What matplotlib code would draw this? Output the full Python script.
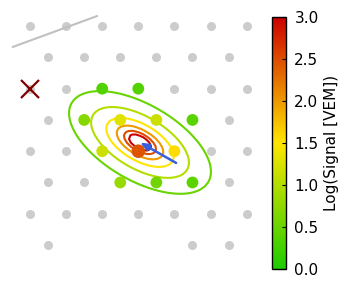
import matplotlib
matplotlib.use('Agg')
import matplotlib.pyplot as plt
import numpy as np
from matplotlib.colors import LinearSegmentedColormap, Normalize

# array layout: station columns present in each row (row 0 at the bottom)
row_cols = {
    0: [0, 4, 5],
    1: [0, 1, 2, 3, 4, 5, 6],
    2: [0, 1, 2, 3, 4, 5],
    3: [0, 1, 2, 3, 4, 5, 6],
    4: [0, 1, 2, 3, 4, 5],
    5: [0, 1, 2, 3, 4, 5, 6],
    6: [0, 1, 2, 3, 4, 5],
    7: [0, 1, 2, 3, 4, 5, 6],
}
spacing = 1.5  # km

# triggered stations: row, column, log10(signal)
hit_row = [5, 5, 4, 4, 4, 4, 3, 3, 3, 2, 2, 2]
hit_col = [2, 3, 1, 2, 3, 4, 2, 3, 4, 2, 3, 4]
hit_logs = [0.35, 0.35, 0.7, 1.3, 1.15, 0.4, 1.15, 2.45, 1.55, 0.8, 0.55, 0.4]

bad_row, bad_col = 5, 0

# reconstructed core and shower axis
core = (4.57, 4.26)
axis_end = (6.07, 3.41)
axis_angle = -30.0  # deg
ellipse_ratio = 0.48
ldf_ref_r = 3.28    # km where log S = 0.5
ldf_ref_s = 0.5
ldf_beta = 3.1
levels = [0.5, 1.0, 1.5, 2.0, 2.5, 3.0]

line_start = (-0.71, 8.23)
line_end = (2.78, 9.51)


def station_xy(row, col):
    x = spacing * col + (0.75 if row % 2 == 0 else 0.0)
    y = row * spacing * np.sqrt(3) / 2
    return x, y


cmap = LinearSegmentedColormap.from_list(
    'sig', [(0.12, 0.8, 0.0), (1.0, 0.9, 0.0), (0.8, 0.0, 0.0)])
norm = Normalize(0, 3)

fig = plt.figure(figsize=(3.6, 3.0), dpi=100)
ax = fig.add_axes([0, 0, 260 / 360, 1])
ax.set_axis_off()
ax.set_xlim(-30 / 24.07, 230 / 24.07)
ax.set_ylim(-55 / 24.07, 245 / 24.07)

gx, gy = [], []
for r, cols in row_cols.items():
    for c in cols:
        x, y = station_xy(r, c)
        gx.append(x)
        gy.append(y)
ax.scatter(gx, gy, s=42, c='#cccccc', linewidths=0, zorder=1)

ax.plot([line_start[0], line_end[0]], [line_start[1], line_end[1]],
        color='#c0c0c0', lw=1.5, zorder=1)

bx, by = station_xy(bad_row, bad_col)
ax.plot(bx, by, 'x', color='#800000', ms=13, mew=1.6, zorder=3)

# lateral distribution contours
xs = np.arange(0.5, 9.0, 0.15)
ys = np.arange(0.5, 8.0, 0.15)
X, Y = np.meshgrid(xs, ys)
t = np.radians(axis_angle)
u = (X - core[0]) * np.cos(t) + (Y - core[1]) * np.sin(t)
v = -(X - core[0]) * np.sin(t) + (Y - core[1]) * np.cos(t)
R = np.sqrt(u ** 2 + (v / ellipse_ratio) ** 2) + 1e-6
S = ldf_ref_s + ldf_beta * np.log10(ldf_ref_r / R)
ax.contour(X, Y, S, levels=levels, cmap=cmap, norm=norm, linewidths=1.5,
           zorder=2)

hx, hy, hs = [], [], []
for r, c, s in zip(hit_row, hit_col, hit_logs):
    x, y = station_xy(r, c)
    hx.append(x)
    hy.append(y)
    hs.append(95 if s > 2 else 72)
ax.scatter(hx, hy, s=hs, c=hit_logs, cmap=cmap, norm=norm, linewidths=0, zorder=4)

ax.annotate('', xy=core, xytext=axis_end,
            arrowprops=dict(arrowstyle='-|>,head_length=0.5,head_width=0.2',
                            color='#3a5fdd', lw=1.8, shrinkA=0, shrinkB=0),
            zorder=5)

cax = fig.add_axes([272 / 360, 31 / 300, 14 / 360, 252 / 300])
sm = plt.cm.ScalarMappable(norm=norm, cmap=cmap)
cb = fig.colorbar(sm, cax=cax, ticks=[0, 0.5, 1, 1.5, 2, 2.5, 3])
cb.ax.set_yticklabels(['0.0', '0.5', '1.0', '1.5', '2.0', '2.5', '3.0'])
cb.ax.tick_params(direction='in', length=3, labelsize=11, pad=6)
cb.set_label('Log(Signal [VEM])', fontsize=11, labelpad=4)
cb.outline.set_linewidth(1)

fig.savefig('out.png', dpi=100)
